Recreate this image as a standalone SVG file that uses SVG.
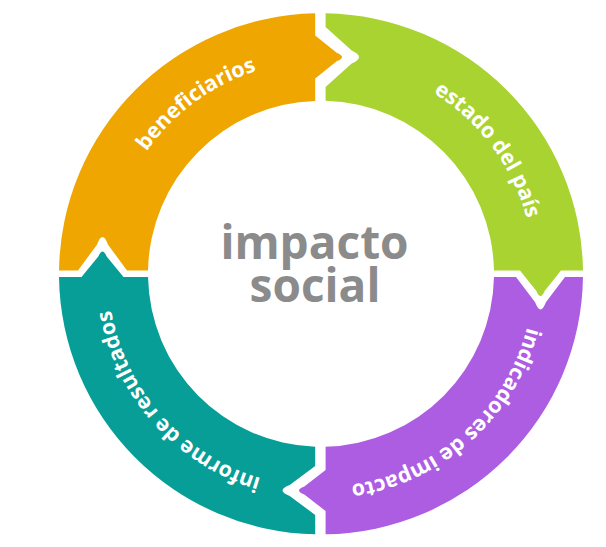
<svg xmlns="http://www.w3.org/2000/svg" xmlns:xlink="http://www.w3.org/1999/xlink" width="606" height="547" viewBox="0 0 606 547">
  <style>
    .lbl { font-family: "Open Sans", "Liberation Sans", sans-serif; font-weight: 700; font-size: 21.5px; fill: #ffffff; }
    .ctr { font-family: "Open Sans", "Liberation Sans", sans-serif; font-weight: 700; font-size: 46px; fill: #8b8b8b; text-anchor: middle; }
  </style>
  <defs>
    <path id="ring" d="M 534,273.8 A 213,213 0 1 1 108,273.8 A 213,213 0 1 1 534,273.8" fill="none"/>
  </defs>
  <rect width="606" height="547" fill="#ffffff"/>
  <g id="connectors"></g>
  <g id="beneficiarios">
    <path fill="#EFA600" d="M 59.02,270.6 A 262,260.6 0 0 1 315.2,13.26 L 315.2,35.5 L 336.64,52.7 Q 347.36,57 336.64,61.3 L 315.2,78.5 L 315.2,100.9 A 173,173 0 0 0 148.03,270.6 L 127,270.6 L 107.89,244.39 Q 102.5,229.61 97.11,244.39 L 78,270.6 Z"/>
    <text class="lbl"><textPath xlink:href="#ring" href="#ring" startOffset="868.4" text-anchor="middle">beneficiarios</textPath></text>
  </g>
  <g id="estado">
    <path fill="#A8D330" d="M 325.6,13.23 A 262,260.6 0 0 1 582.98,270.6 L 561,270.6 L 544.6,290.92 Q 540.5,301.08 536.4,290.92 L 520,270.6 L 493.97,270.6 A 173,173 0 0 0 325.6,100.86 L 325.6,87 L 351.65,63.6 Q 366.35,57 351.65,50.4 L 325.6,27 Z"/>
    <text class="lbl"><textPath xlink:href="#ring" href="#ring" startOffset="1201.7" text-anchor="middle">estado del país</textPath></text>
  </g>
  <g id="indicadores">
    <path fill="#AD5DE1" d="M 582.98,277 A 262,260.6 0 0 1 325.6,534.37 L 325.6,511 L 304.32,494.6 Q 293.68,490.5 304.32,486.4 L 325.6,470 L 325.6,446.74 A 173,173 0 0 0 493.97,277 L 516,277 L 535.11,302.35 Q 540.5,316.65 545.89,302.35 L 565,277 Z"/>
    <text class="lbl"><textPath xlink:href="#ring" href="#ring" startOffset="179.2" text-anchor="middle">indicadores de impacto</textPath></text>
  </g>
  <g id="informe">
    <path fill="#069E97" d="M 315.2,534.34 A 262,260.6 0 0 1 59.02,277 L 81.5,277 L 98.3,256.6 Q 102.5,246.4 106.7,256.6 L 123.5,277 L 148.03,277 A 173,173 0 0 0 315.2,446.7 L 315.2,466 L 289.69,485.11 Q 275.31,490.5 289.69,495.89 L 315.2,515 Z"/>
    <text class="lbl"><textPath xlink:href="#ring" href="#ring" startOffset="513.8" text-anchor="middle">informe de resultados</textPath></text>
  </g>
  <g id="centro">
    <text class="ctr" x="314.5" y="259.3">impacto</text>
    <text class="ctr" x="315" y="301.7">social</text>
  </g>
</svg>
